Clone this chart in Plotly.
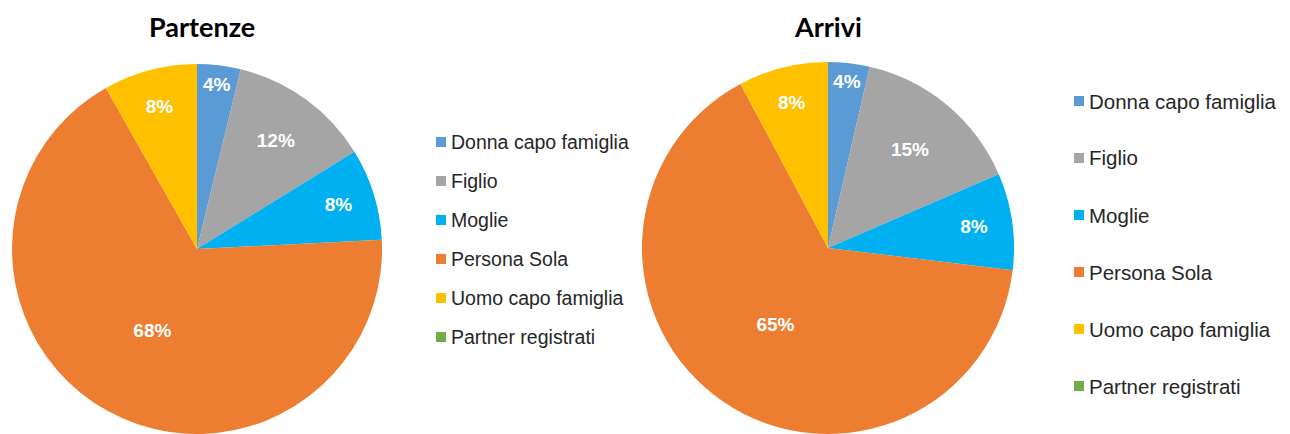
import plotly.graph_objects as go

categories = ["Donna capo famiglia", "Figlio", "Moglie", "Persona Sola",
              "Uomo capo famiglia", "Partner registrati"]
partenze = [3.8, 12.4, 8.0, 67.6, 8.2, 0.0]
arrivi = [3.6, 14.9, 8.4, 65.3, 7.8, 0.0]
titles = ["Partenze", "Arrivi"]
colors = ["#5B9BD5", "#A5A5A5", "#00B0F0", "#ED7D31", "#FFC000", "#70AD47"]

W, H = 1290, 434
OFF = 8  # page body margin offset


def px_x(x):
    return (x - OFF) / W


def px_y(y):
    return 1 - (y - OFF) / H


def templ(vals):
    return ["%{percent:.0%}" if v > 0 else "" for v in vals]


def pie_domain(cx, cy, r):
    return dict(x=[px_x(cx - r), px_x(cx + r)], y=[px_y(cy + r), px_y(cy - r)])


text_font = dict(family="Liberation Sans, Arial", size=19, color="white", weight="bold")

fig = go.Figure()
fig.add_trace(go.Pie(
    labels=categories, values=partenze, sort=False, direction="clockwise",
    rotation=0, marker=dict(colors=colors, line=dict(width=0)),
    texttemplate=templ(partenze), textposition="inside",
    insidetextorientation="horizontal", textfont=text_font,
    domain=pie_domain(197, 249, 185),
    showlegend=False, name=titles[0],
))
fig.add_trace(go.Pie(
    labels=categories, values=arrivi, sort=False, direction="clockwise",
    rotation=0, marker=dict(colors=colors, line=dict(width=0)),
    texttemplate=templ(arrivi), textposition="inside",
    insidetextorientation="horizontal", textfont=text_font,
    domain=pie_domain(828, 248, 186),
    showlegend=False, name=titles[1],
))

annotations = []
shapes = []
# titles
for t, cx in zip(titles, [202, 828]):
    annotations.append(dict(
        text=f"<b>{t}</b>", x=px_x(cx), y=px_y(26), xref="paper", yref="paper",
        xanchor="center", yanchor="middle", showarrow=False,
        font=dict(family="Lato, Open Sans", size=27, color="black"),
    ))

# legends
legend_specs = [
    dict(sq_x=441, text_x=449, y0=142, dy=39, size=19.5),
    dict(sq_x=1079, text_x=1087, y0=101, dy=57, size=20.5),
]
for spec in legend_specs:
    for i, (lab, col) in enumerate(zip(categories, colors)):
        yc = spec["y0"] + i * spec["dy"]
        shapes.append(dict(
            type="rect", xref="paper", yref="paper",
            x0=px_x(spec["sq_x"] - 5), x1=px_x(spec["sq_x"] + 5),
            y0=px_y(yc + 5), y1=px_y(yc - 5),
            fillcolor=col, line=dict(width=0),
        ))
        annotations.append(dict(
            text=lab, x=px_x(spec["text_x"]), y=px_y(yc), xref="paper", yref="paper",
            xanchor="left", yanchor="middle", showarrow=False,
            font=dict(family="Liberation Sans, Arial", size=spec["size"], color="#262626"),
        ))

fig.update_layout(
    width=W, height=H, margin=dict(l=0, r=0, t=0, b=0),
    paper_bgcolor="white", plot_bgcolor="white",
    annotations=annotations, shapes=shapes,
    uniformtext=dict(minsize=19, mode="show"),
)

fig.write_html("out.html")
